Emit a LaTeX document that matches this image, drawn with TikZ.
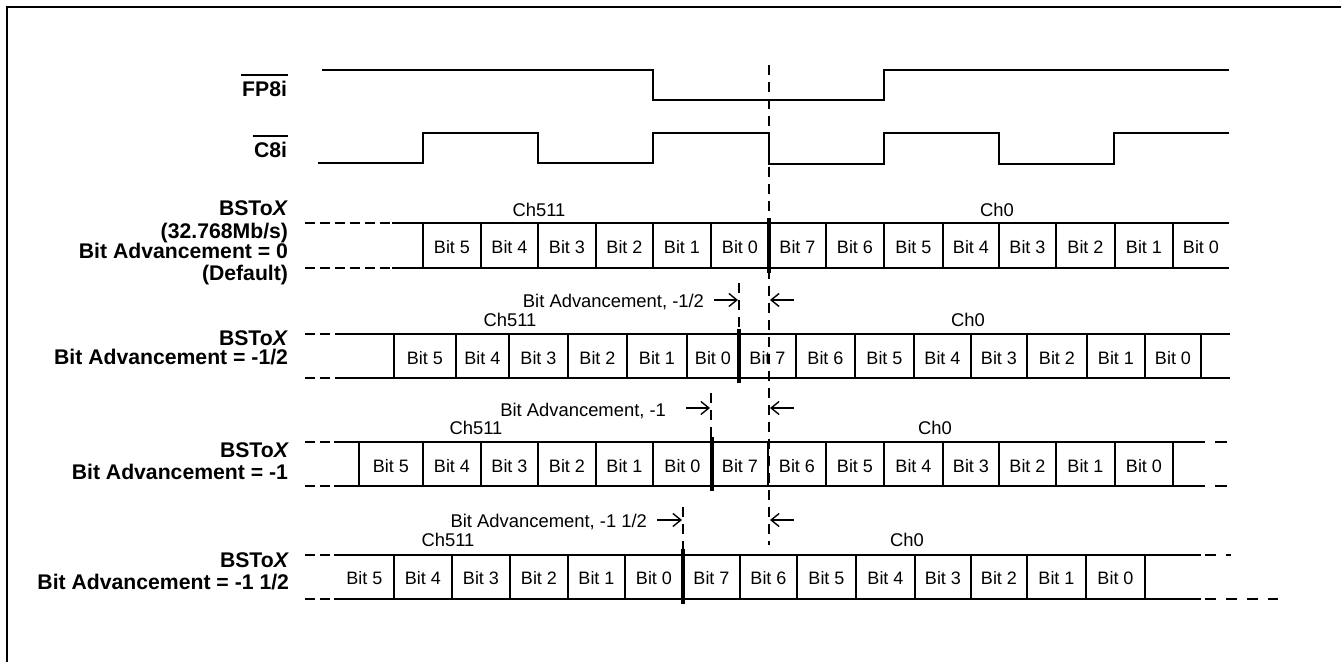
\documentclass[tikz,border=0pt]{standalone}
\usepackage{fontspec}
\setmainfont{Liberation Sans}
\usetikzlibrary{arrows.meta}
\begin{document}
\begin{tikzpicture}[x=0.5pt,y=-0.5pt,line width=1pt,
  sig/.style={line width=1pt, line join=miter},
  ldash/.style={line width=1pt, dash pattern=on 5pt off 2.5pt},
  vdash/.style={line width=1pt, dash pattern=on 5pt off 3.5pt},
  thk/.style={line width=1.6pt},
  arr/.style={line width=0.7pt, -{Straight Barb[length=4pt,width=6.5pt]}},
  cell/.style={inner sep=0pt, font=\fontsize{9}{10}\selectfont},
  ann/.style={inner sep=0pt, font=\fontsize{9.2}{10}\selectfont},
  blbl/.style={inner sep=0pt, anchor=base east, font=\fontsize{10.6}{12}\selectfont\bfseries}]
\useasboundingbox (0,0) rectangle (1341,662);
% frame
\draw[line width=1.2pt] (7,662) -- (7,7) -- (1341,7);

% signal names
\node[blbl] (fp) at (288,97) {FP8i};
\draw[line width=1pt] ([yshift=2.8pt]fp.north west) -- ([yshift=2.8pt]fp.north east);
\node[blbl] (c8) at (288,158) {C8i};
\draw[line width=1pt] ([yshift=2.8pt]c8.north west) -- ([yshift=2.8pt]c8.north east);

% waveforms
\draw[sig] (322,70) -- (653,70) -- (653,100) -- (884,100) -- (884,70) -- (1229,70);
\draw[sig] (318,163) -- (423,163) -- (423,133) -- (538,133) -- (538,163) -- (653,163)
  -- (653,133) -- (769,133) -- (769,164) -- (884,164) -- (884,133) -- (999,133)
  -- (999,164) -- (1114,164) -- (1114,133) -- (1229,133);

% main reference line
\draw[vdash] (769,65) -- (769,545);

% ---------- Row 1 ----------
\node[blbl] (l1a) at (289,216) {BSTo\textit{X}};
\node[blbl] (l1b) at (289,239) {(32.768Mb/s)};
\node[blbl] (l1c) at (289,259) {Bit Advancement = 0};
\node[blbl] (l1d) at (289,281) {(Default)};
\node[ann, anchor=base] (c511a) at (539,217) {Ch511};
\node[ann, anchor=base] (c0a) at (997,217) {Ch0};
\foreach \yy in {223,268}{
  \draw[ldash] (305,\yy) -- (392,\yy);
  \draw (392,\yy) -- (1229,\yy);
}
\foreach \x in {423,481,538,596,653,711,826,884,943,999,1056,1115,1173}
  \draw (\x,223) -- (\x,268);
\draw[thk] (769,218) -- (769,273);
\foreach \a/\b/\t [count=\i] in {423/481/5,481/538/4,538/596/3,596/653/2,653/711/1,711/769/0,
  769/826/7,826/884/6,884/943/5,943/999/4,999/1056/3,1056/1115/2,1115/1173/1,1173/1229/0}
  \node[cell] (ra\i) at ({(\a+\b)/2},247.5) {Bit \t};

% ---------- Annotation 1/2 ----------
\node[ann, anchor=base east] (an2) at (705,308) {Bit Advancement, -1/2};
\coordinate (a2s) at (714,300); \coordinate (a2e) at (738,300);
\draw[arr] (a2s) -- (a2e);
\coordinate (b2s) at (794,300); \coordinate (b2e) at (770,300);
\draw[arr] (b2s) -- (b2e);
\draw[vdash] (739,283) -- (739,330);

% ---------- Row 2 ----------
\node[blbl] (l2a) at (289,346) {BSTo\textit{X}};
\node[blbl] (l2b) at (289,365) {Bit Advancement = -1/2};
\node[ann, anchor=base] (c511b) at (510,327) {Ch511};
\node[ann, anchor=base] (c0b) at (968,327) {Ch0};
\foreach \yy in {334,378}{
  \draw[ldash] (305,\yy) -- (338,\yy);
  \draw (338,\yy) -- (1230,\yy);
}
\foreach \x in {394,456,509,568,627,687,796,855,914,971,1027,1087,1145,1201}
  \draw (\x,334) -- (\x,378);
\draw[thk] (739,329) -- (739,383);
\foreach \a/\b/\t [count=\i] in {394/456/5,456/509/4,509/568/3,568/627/2,627/687/1,687/739/0,
  739/796/7,796/855/6,855/914/5,914/971/4,971/1027/3,1027/1087/2,1087/1145/1,1145/1201/0}
  \node[cell] (rb\i) at ({(\a+\b)/2},358.5) {Bit \t};

% ---------- Annotation 1 ----------
\node[ann, anchor=base east] (an3) at (667,417) {Bit Advancement, -1};
\coordinate (a3s) at (686,408); \coordinate (a3e) at (710,408);
\draw[arr] (a3s) -- (a3e);
\coordinate (b3s) at (794,408); \coordinate (b3e) at (770,408);
\draw[arr] (b3s) -- (b3e);
\draw[vdash] (711,393) -- (711,438);

% ---------- Row 3 ----------
\node[blbl] (l3a) at (290,458) {BSTo\textit{X}};
\node[blbl] (l3b) at (289,480) {Bit Advancement = -1};
\node[ann, anchor=base] (c511c) at (476,435) {Ch511};
\node[ann, anchor=base] (c0c) at (935,435) {Ch0};
\foreach \yy in {442,486}{
  \draw[ldash] (305,\yy) -- (334,\yy);
  \draw (334,\yy) -- (1205,\yy);
  \draw (1215,\yy) -- (1227,\yy);
}
\foreach \x in {359,423,481,538,596,653,768,826,884,943,999,1056,1115,1173}
  \draw (\x,442) -- (\x,486);
\draw[thk] (712,437) -- (712,491);
\foreach \a/\b/\t [count=\i] in {359/423/5,423/481/4,481/538/3,538/596/2,596/653/1,653/712/0,
  712/768/7,768/826/6,826/884/5,884/943/4,943/999/3,999/1056/2,1056/1115/1,1115/1173/0}
  \node[cell] (rc\i) at ({(\a+\b)/2},466.5) {Bit \t};

% ---------- Annotation 1 1/2 ----------
\node[ann, anchor=base east] (an4) at (648,528) {Bit Advancement, -1 1/2};
\coordinate (a4s) at (657,520); \coordinate (a4e) at (682,520);
\draw[arr] (a4s) -- (a4e);
\coordinate (b4s) at (794,520); \coordinate (b4e) at (770,520);
\draw[arr] (b4s) -- (b4e);
\draw[vdash] (683,507) -- (683,549);

% ---------- Row 4 ----------
\node[blbl] (l4a) at (290,568) {BSTo\textit{X}};
\node[blbl] (l4b) at (290,590) {Bit Advancement = -1 1/2};
\node[ann, anchor=base] (c511d) at (448,547) {Ch511};
\node[ann, anchor=base] (c0d) at (907,547) {Ch0};
\draw[ldash] (305,555) -- (334,555);
\draw (334,555) -- (1201,555);
\draw[line width=1pt, dash pattern=on 5.5pt off 5pt] (1205,555) -- (1231,555);
\draw[ldash] (305,599) -- (334,599);
\draw (334,599) -- (1201,599);
\draw[line width=1pt, dash pattern=on 5.5pt off 5pt] (1205,599) -- (1278,599);
\foreach \x in {394,452,510,568,625,740,797,856,915,971,1027,1086,1145}
  \draw (\x,555) -- (\x,599);
\draw[thk] (683,549) -- (683,604);
\foreach \a/\b/\t [count=\i] in {335/394/5,394/452/4,452/510/3,510/568/2,568/625/1,625/683/0,
  683/740/7,740/797/6,797/856/5,856/915/4,915/971/3,971/1027/2,1027/1086/1,1086/1145/0}
  \node[cell] (rd\i) at ({(\a+\b)/2},578.5) {Bit \t};
\end{tikzpicture}
\end{document}
